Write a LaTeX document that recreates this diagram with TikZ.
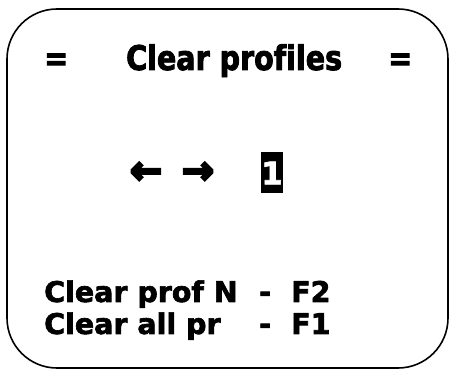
\documentclass[tikz,border=0pt]{standalone}
\usepackage{fontspec}
\newfontfamily\lcdfont{DejaVu Sans}[FakeBold=2.2, Ligatures=NoCommon]
\newfontfamily\lcdtitle{DejaVu Sans}[FakeStretch=0.84, FakeBold=2.4, Ligatures=NoCommon]
\newfontfamily\lcdarrow{DejaVu Sans}[FakeBold=7]

\tikzset{
  screen/.style = {draw, line width = 1.6pt, rounded corners = 50pt},
  lcdtext/.style = {inner sep = 0pt, anchor = base west, font = \lcdfont\bfseries\fontsize{28.5}{30}\selectfont},
  lcdhead/.style = {inner sep = 0pt, anchor = base west, font = \lcdtitle\bfseries\fontsize{34}{36}\selectfont},
  lcdsign/.style = {inner sep = 0pt, anchor = center, font = \lcdarrow\bfseries\fontsize{38}{40}\selectfont},
  cursor/.style = {fill = black, text = white, inner sep = 0pt, minimum width = 22pt, minimum height = 41pt,
                   font = \lcdfont\bfseries\fontsize{31}{33}\selectfont}
}

\begin{document}
\begin{tikzpicture}[x = 1pt, y = -1pt]

	\useasboundingbox (0,0) rectangle (450,371);
	\draw[screen] (7,9) rectangle (448,368);

	% title row
	\node[lcdhead] (eqleft) at (44,70) {=};
	\node[lcdhead] (title) at (126,70) {Clear profiles};
	\node[lcdhead] (eqright) at (388,70) {=};

	% selector row
	\node[lcdsign] (prev) at (146,173) {←};
	\node[lcdsign] (next) at (198,173) {→};
	\node[cursor] (num) at (272,173) {1};

	% key hints
	\node[lcdtext] (clearone) at (44,302) {Clear prof N};
	\node[lcdtext] (dashone) at (259,302) {-};
	\node[lcdtext] (keytwo) at (291,302) {F2};
	\node[lcdtext] (clearall) at (44,334) {Clear all pr};
	\node[lcdtext] (dashall) at (259,334) {-};
	\node[lcdtext] (keyone) at (291,334) {F1};

\end{tikzpicture}
\end{document}
